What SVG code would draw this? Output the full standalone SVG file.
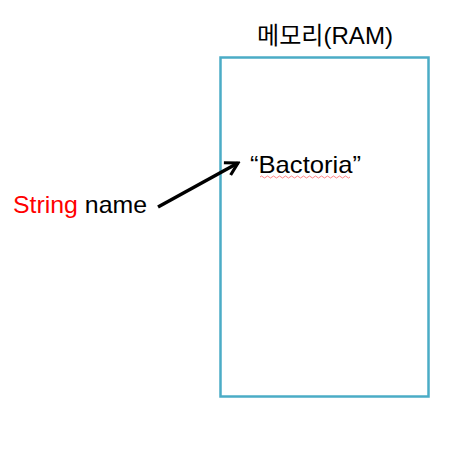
<svg xmlns="http://www.w3.org/2000/svg" width="464" height="451" viewBox="0 0 464 451">
<style>
text{font-family:"Liberation Sans","Noto Sans CJK KR",sans-serif;font-size:24px;fill:#000}
.red{fill:#ff0000}
</style>
<defs>
<marker id="ah" viewBox="0 0 10 10" refX="8.5" refY="5" markerWidth="5" markerHeight="5" orient="auto" markerUnits="strokeWidth">
<path d="M1.5,1 L8.5,5 L1.5,9" fill="none" stroke="#000" stroke-width="1.8" stroke-linejoin="miter"/>
</marker>
</defs>
<rect width="464" height="451" fill="#fff"/>
<g id="ram">
<rect x="220.5" y="57.5" width="208" height="339" fill="none" stroke="#4BACC6" stroke-width="2.5"/>
<text x="325" y="44" text-anchor="middle" font-size="23" textLength="136" lengthAdjust="spacingAndGlyphs">메모리(RAM)</text>
</g>
<g id="value">
<text x="250" y="173" textLength="111" lengthAdjust="spacingAndGlyphs">“Bactoria”</text>
<path d="M260,177 q1.5,-2 3,0 t3,0 t3,0 t3,0 t3,0 t3,0 t3,0 t3,0 t3,0 t3,0 t3,0 t3,0 t3,0 t3,0 t3,0 t3,0 t3,0 t3,0 t3,0 t3,0 t3,0 t3,0 t3,0 t3,0 t3,0 t3,0 t3,0 t3,0 t3,0 t3,0" fill="none" stroke="#ff6666" stroke-width="0.8"/>
</g>
<g id="var">
<text x="13" y="213" textLength="134" lengthAdjust="spacingAndGlyphs"><tspan class="red">String</tspan> name</text>
</g>
<g id="connectors">
<line x1="158" y1="207" x2="238" y2="163" stroke="#000" stroke-width="3.5" marker-end="url(#ah)"/>
</g>
</svg>
